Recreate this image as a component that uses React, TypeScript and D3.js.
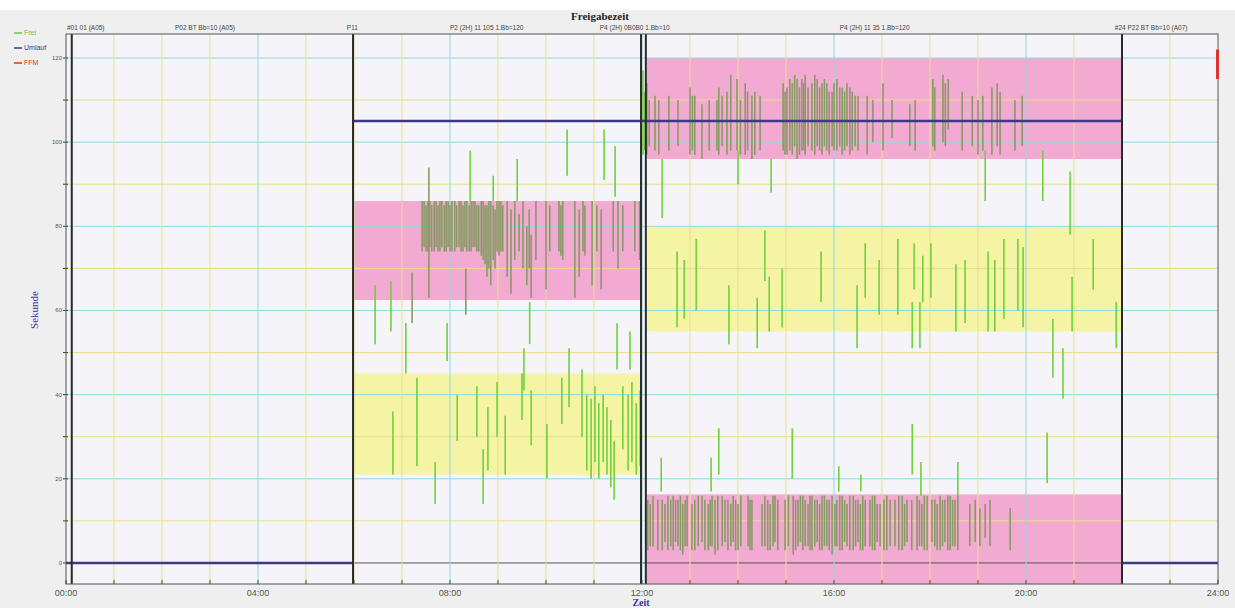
import React from "react";
import * as d3 from "d3";

// ---------- data ----------
const xTickHours = [0, 4, 8, 12, 16, 20, 24];
const xTickLabels = ["00:00", "04:00", "08:00", "12:00", "16:00", "20:00", "24:00"];
const yTickValues = [0, 20, 40, 60, 80, 100, 120];
const yTickLabels = ["0", "20", "40", "60", "80", "100", "120"];

const phaseLines = [0.12, 5.98, 11.98, 12.08, 22.0];

const programLabels = [
  { h: 0.02, text: "#01 01 (A05)" },
  { h: 2.27, text: "P02 BT Bb=10 (A05)" },
  { h: 5.85, text: "P11" },
  { h: 8.0, text: "P2 (2H) 11 105 1.Bb=120" },
  { h: 11.12, text: "P4 (2H) 0B0B0 1.Bb=10" },
  { h: 16.12, text: "P4 (2H) 11 35 1.Bb=120" },
  { h: 21.85, text: "#24  P22 BT Bb=10 (A07)" },
];

// bands: [fromHour, toHour, lo, hi, kind]
const bands: [number, number, number, number, string][] = [
  [5.98, 11.98, 62.5, 86, "pink"],
  [5.98, 11.98, 21, 45, "yellow"],
  [12.1, 22.0, 96, 120, "pink"],
  [12.1, 22.0, 55, 80, "yellow"],
  [12.1, 22.0, -5, 16.3, "pink"],
];

// Umlauf (cycle) line pieces: [fromHour, toHour, value]
const umlauf: [number, number, number][] = [
  [0, 5.98, 0],
  [5.98, 22.0, 105],
  [22.0, 24, 0],
];

// Frei segments: [hour, lo, hi]
const freiMorningDense: [number, number, number][] = [
  [7.42, 74, 86], [7.46, 75, 86], [7.5, 74, 85], [7.54, 74, 86], [7.58, 75, 86],
  [7.62, 74, 85], [7.67, 74, 86], [7.71, 75, 86], [7.75, 74, 85], [7.79, 74, 86],
  [7.83, 75, 86], [7.88, 74, 85], [7.92, 74, 86], [7.96, 75, 86], [8.0, 74, 85],
  [8.04, 74, 86], [8.1, 74, 86], [8.14, 75, 85], [8.19, 75, 86], [8.23, 74, 86],
  [8.27, 74, 85], [8.31, 75, 86], [8.35, 74, 86], [8.4, 74, 85], [8.44, 74, 86],
  [8.48, 75, 86], [8.52, 75, 86], [8.56, 74, 85], [8.6, 74, 85], [8.65, 73, 86],
  [8.69, 72, 86], [8.73, 71, 85], [8.77, 68, 85], [8.81, 70, 86], [8.85, 66, 86],
  [8.9, 72, 85], [8.94, 70, 84], [8.98, 74, 86], [9.02, 73, 86], [9.06, 74, 86],
  [9.1, 74, 85], [9.19, 68, 86], [9.27, 64, 84], [9.35, 72, 86], [9.44, 74, 83],
  [9.52, 70, 86], [9.6, 66, 80], [9.65, 70, 84], [9.69, 63, 78], [9.79, 72, 86],
  [10.0, 65, 86], [10.08, 74, 85], [10.27, 74, 86], [10.31, 73, 85], [10.35, 72, 86],
  [10.6, 63, 86], [10.69, 68, 84], [10.77, 74, 86], [10.81, 73, 85], [10.96, 66, 86],
  [11.06, 74, 85], [11.15, 65, 84], [11.4, 74, 86], [11.5, 70, 86], [11.6, 74, 85],
  [11.85, 74, 86], [11.95, 72, 86],
];

const freiMorningScatter: [number, number, number][] = [
  [6.44, 52, 66], [6.77, 55, 67], [7.08, 45, 57], [7.21, 57, 69], [7.56, 63, 94],
  [7.94, 48, 57], [8.33, 59, 70], [8.42, 86, 98], [8.9, 86, 92], [9.4, 86, 96],
  [9.54, 41, 51], [9.66, 52, 62], [10.44, 92, 103], [10.48, 37, 51], [11.21, 91, 103],
  [11.44, 87, 99], [11.48, 46, 57], [11.75, 46, 55],
];

const freiMorningLow: [number, number, number][] = [
  [6.81, 21, 36], [7.31, 23, 44], [7.69, 14, 24], [8.15, 29, 40], [8.56, 30, 42],
  [8.69, 14, 27], [8.79, 22, 37], [8.98, 30, 43], [9.15, 21, 35], [9.5, 34, 45],
  [9.69, 28, 41], [10.02, 20, 33], [10.33, 33, 44], [10.75, 30, 46], [10.85, 22, 40],
  [10.94, 20, 39], [11.02, 24, 42], [11.1, 20, 38], [11.19, 24, 40], [11.27, 21, 37],
  [11.35, 18, 34], [11.42, 15, 29], [11.6, 27, 42], [11.71, 22, 40], [11.79, 24, 43],
  [11.88, 21, 38], [11.96, 23, 41],
];

const freiAfternoonTop: [number, number, number][] = [
  [12.02, 97, 117], [12.06, 98, 112], [12.1, 97, 114], [12.15, 99, 110], [12.27, 98, 111],
  [12.35, 97, 110], [12.56, 98, 111], [12.75, 99, 110], [13.0, 97, 113], [13.05, 98, 111],
  [13.1, 97, 111], [13.25, 96, 109], [13.4, 98, 110], [13.56, 98, 110], [13.6, 97, 113],
  [13.67, 99, 111], [13.77, 97, 112], [13.85, 98, 116], [13.98, 98, 115], [14.05, 97, 110],
  [14.15, 97, 114], [14.2, 98, 112], [14.29, 96, 111], [14.35, 97, 112], [14.46, 98, 111],
  [14.94, 98, 114], [14.98, 97, 112], [15.02, 97, 113], [15.08, 98, 115], [15.13, 97, 114],
  [15.18, 99, 116], [15.23, 96, 115], [15.28, 97, 113], [15.33, 98, 115], [15.37, 98, 114],
  [15.4, 97, 116], [15.46, 99, 113], [15.54, 98, 114], [15.6, 97, 116], [15.65, 99, 115],
  [15.7, 98, 113], [15.75, 97, 114], [15.8, 99, 115], [15.85, 98, 114], [15.9, 97, 112],
  [15.96, 99, 112], [16.0, 98, 114], [16.06, 98, 115], [16.12, 99, 113], [16.17, 97, 113],
  [16.22, 98, 112], [16.27, 99, 114], [16.33, 97, 113], [16.38, 98, 112], [16.44, 99, 111],
  [16.5, 98, 111], [16.69, 97, 111], [16.81, 100, 110], [17.02, 98, 114], [17.21, 101, 110],
  [17.58, 99, 109], [17.69, 98, 110], [18.06, 99, 115], [18.1, 98, 113], [18.27, 100, 116],
  [18.32, 99, 114], [18.38, 103, 115], [18.67, 98, 112], [18.88, 99, 111], [19.0, 97, 110],
  [19.1, 98, 111], [19.29, 97, 113], [19.4, 99, 114], [19.46, 97, 112], [19.77, 98, 110],
  [19.92, 99, 111],
];

const freiAfternoonBottom: [number, number, number][] = [
  [12.12, 3, 15], [12.17, 4, 14], [12.23, 4, 16], [12.33, 3, 15], [12.42, 3, 15],
  [12.48, 5, 14], [12.54, 3, 16], [12.6, 4, 15], [12.65, 3, 16], [12.7, 5, 15],
  [12.75, 4, 15], [12.8, 3, 16], [12.85, 2, 14], [12.9, 4, 15], [12.94, 4, 16],
  [13.04, 3, 14], [13.1, 3, 15], [13.17, 4, 16], [13.25, 5, 16], [13.31, 3, 15],
  [13.38, 3, 14], [13.42, 4, 15], [13.46, 4, 16], [13.52, 2, 15], [13.58, 3, 16],
  [13.67, 4, 16], [13.73, 5, 15], [13.79, 3, 15], [13.85, 4, 14], [13.9, 5, 16],
  [13.95, 3, 15], [14.0, 3, 14], [14.06, 4, 16], [14.21, 4, 16], [14.25, 3, 15],
  [14.29, 3, 15], [14.5, 4, 14], [14.56, 4, 16], [14.62, 3, 15], [14.67, 3, 14],
  [14.73, 4, 16], [14.77, 5, 16], [14.83, 3, 15], [14.98, 3, 15], [15.05, 4, 16],
  [15.15, 2, 16], [15.2, 3, 15], [15.25, 4, 15], [15.3, 5, 16], [15.35, 3, 16],
  [15.4, 4, 15], [15.46, 4, 14], [15.5, 3, 16], [15.54, 3, 16], [15.6, 4, 15],
  [15.65, 5, 15], [15.7, 3, 14], [15.75, 3, 16], [15.8, 4, 16], [15.85, 4, 15],
  [15.9, 3, 15], [15.96, 2, 16], [16.02, 4, 14], [16.06, 4, 15], [16.12, 3, 16],
  [16.17, 3, 16], [16.22, 5, 15], [16.27, 4, 14], [16.33, 3, 16], [16.4, 3, 16],
  [16.45, 4, 15], [16.5, 5, 15], [16.55, 3, 14], [16.6, 3, 16], [16.65, 4, 15],
  [16.75, 4, 15], [16.8, 3, 16], [16.85, 3, 16], [16.9, 5, 14], [16.96, 4, 14],
  [17.04, 3, 15], [17.1, 3, 16], [17.17, 4, 15], [17.27, 4, 15], [17.35, 3, 16],
  [17.42, 3, 16], [17.47, 4, 14], [17.52, 5, 15], [17.62, 3, 15], [17.73, 3, 16],
  [17.78, 4, 15], [17.83, 4, 14], [17.88, 3, 16], [17.94, 3, 16], [18.04, 5, 15],
  [18.1, 4, 15], [18.15, 3, 14], [18.21, 3, 16], [18.26, 4, 15], [18.31, 5, 15],
  [18.37, 3, 16], [18.42, 3, 16], [18.47, 4, 15], [18.52, 4, 15], [18.58, 3, 16],
  [18.83, 4, 14], [18.94, 5, 15], [19.04, 4, 13], [19.15, 6, 14], [19.25, 4, 15],
  [19.67, 3, 13],
];

const freiAfternoonScatter: [number, number, number][] = [
  [12.42, 82, 96], [12.73, 56, 74], [12.88, 58, 72], [13.13, 60, 77], [13.81, 52, 66],
  [14.0, 90, 98], [14.4, 51, 63], [14.56, 67, 79], [14.65, 55, 68], [14.69, 88, 96],
  [14.92, 56, 70], [15.73, 62, 74], [16.48, 51, 66], [16.65, 63, 76], [16.94, 59, 72],
  [12.4, 17, 25], [13.44, 17, 25], [13.6, 21, 32], [15.13, 20, 32], [16.1, 17, 23],
  [16.56, 17, 21], [17.33, 59, 77], [17.63, 51, 62], [17.67, 65, 76], [17.79, 51, 62],
  [17.85, 62, 73], [18.02, 63, 76], [18.54, 55, 71], [18.73, 57, 72], [19.15, 86, 98],
  [19.21, 55, 74], [19.35, 55, 72], [19.54, 58, 77], [19.83, 60, 77], [19.94, 56, 75],
  [20.35, 86, 98], [20.56, 44, 58], [20.77, 39, 51], [20.92, 78, 93], [20.96, 55, 68],
  [21.4, 65, 77], [21.88, 51, 62], [17.63, 21, 33], [17.81, 16, 24], [18.58, 16, 24],
  [20.44, 19, 31],
];

const legendItems = [
  { label: "Frei", color: "#66cc44" },
  { label: "Umlauf", color: "#3a3a99" },
  { label: "FFM", color: "#dd3322" },
];

// ---------- chart ----------
const W = 1235;
const H = 608;
const left = 66;
const right = 1218;
const top = 34;
const bottom = 584;

export default function App() {
  const x = d3.scaleLinear().domain([0, 24]).range([left, right]);
  const y = d3.scaleLinear().domain([-5, 125.7]).range([bottom, top]);

  const gridHours = d3.range(1, 24);
  const gridValues = d3.range(10, 125, 10);
  const allFrei = [
    ...freiMorningDense,
    ...freiMorningScatter,
    ...freiMorningLow,
    ...freiAfternoonTop,
    ...freiAfternoonBottom,
    ...freiAfternoonScatter,
  ];
  const inPink = (h: number, v: number) =>
    bands.some((b) => b[4] === "pink" && h >= b[0] && h <= b[1] && v >= b[2] && v <= b[3]);

  const bandColor: Record<string, string> = { pink: "#f2aad3", yellow: "#f5f3a4" };

  return (
    <svg
      width={W}
      height={H}
      style={{ position: "absolute", left: 0, top: 0, background: "#efefef" }}
      fontFamily="'Liberation Sans', Arial, sans-serif"
    >
      <rect x={0} y={0} width={W} height={10} fill="#ffffff" />
      <rect x={left} y={top} width={right - left} height={bottom - top} fill="#f4f4f9" />

      {/* bands */}
      {bands.map((b, i) => (
        <rect
          key={"b" + i}
          x={x(b[0])}
          y={y(Math.min(b[3], 125.7))}
          width={x(b[1]) - x(b[0])}
          height={y(Math.max(b[2], -5)) - y(Math.min(b[3], 125.7))}
          fill={bandColor[b[4]]}
        />
      ))}

      {/* horizontal grid */}
      {gridValues.map((v) => (
        <line
          key={"hg" + v}
          x1={left}
          x2={right}
          y1={y(v)}
          y2={y(v)}
          stroke={v % 20 === 0 ? "#8fdbe3" : "#e9df8a"}
          strokeWidth={1}
        />
      ))}
      <line x1={left} x2={right} y1={y(0)} y2={y(0)} stroke="#555" strokeWidth={1} />

      {/* vertical grid */}
      {gridHours.map((h) => (
        <line
          key={"vg" + h}
          x1={x(h)}
          x2={x(h)}
          y1={top}
          y2={bottom}
          stroke={h % 4 === 0 ? "#8fdbe3" : "#e9df8a"}
          strokeWidth={1}
        />
      ))}

      {/* Frei segments */}
      {allFrei.map((s, i) => {
        const pink = inPink(s[0], (s[1] + s[2]) / 2);
        return (
          <line
            key={"f" + i}
            x1={x(s[0])}
            x2={x(s[0])}
            y1={y(s[1])}
            y2={y(s[2])}
            stroke={pink ? "#8a9a66" : "#72d03e"}
            strokeWidth={1.6}
          />
        );
      })}

      {/* Umlauf */}
      {umlauf.map((u, i) => (
        <line
          key={"u" + i}
          x1={x(u[0])}
          x2={x(u[1])}
          y1={y(u[2])}
          y2={y(u[2])}
          stroke="#3a3a88"
          strokeWidth={2.5}
        />
      ))}

      {/* phase lines */}
      {phaseLines.map((h, i) => (
        <line key={"p" + i} x1={x(h)} x2={x(h)} y1={top} y2={bottom} stroke="#2a2a2a" strokeWidth={2} />
      ))}

      {/* frame */}
      <rect x={left} y={top} width={right - left} height={bottom - top} fill="none" stroke="#555" strokeWidth={1} />

      {/* FFM marker */}
      <rect x={x(24) - 2} y={y(122)} width={3} height={y(115) - y(122)} fill="#dd3333" />

      {/* bottom ticks */}
      {d3.range(0, 25).map((h) => (
        <line key={"xt" + h} x1={x(h)} x2={x(h)} y1={bottom - 4} y2={bottom} stroke="#444" />
      ))}
      {xTickHours.map((h, i) => (
        <text key={"xl" + h} x={x(h)} y={596} textAnchor="middle" fontSize={9} fill="#555">
          {xTickLabels[i]}
        </text>
      ))}

      {/* left ticks */}
      {gridValues.concat([0]).map((v) => (
        <line key={"yt" + v} x1={left - 3} x2={left + 2} y1={y(v)} y2={y(v)} stroke="#444" />
      ))}
      {yTickValues.map((v, i) => (
        <text key={"yl" + v} x={left - 4} y={y(v) + 2} textAnchor="end" fontSize={6} fill="#555">
          {yTickLabels[i]}
        </text>
      ))}

      {/* program labels */}
      {programLabels.map((p, i) => (
        <text key={"pl" + i} x={x(p.h)} y={30} fontSize={6.5} fill="#444">
          {p.text}
        </text>
      ))}

      {/* title */}
      <text x={600} y={20} textAnchor="middle" fontSize={11} fontWeight="bold" fontFamily="'Liberation Serif', serif" fill="#222">
        Freigabezeit
      </text>

      {/* axis titles */}
      <text
        transform={`translate(38, 310) rotate(-90)`}
        textAnchor="middle"
        fontSize={11}
        fontFamily="'Liberation Serif', serif"
        fill="#3333aa"
      >
        Sekunde
      </text>
      <text x={641} y={606} textAnchor="middle" fontSize={10} fontWeight="bold" fontFamily="'Liberation Serif', serif" fill="#3333aa">
        Zeit
      </text>

      {/* legend */}
      {legendItems.map((l, i) => (
        <g key={"lg" + i} transform={`translate(14, ${35 + i * 15})`}>
          <line x1={0} x2={8} y1={-2} y2={-2} stroke={l.color} strokeWidth={1.5} />
          <text x={10} y={0} fontSize={7} fill={l.color}>
            {l.label}
          </text>
        </g>
      ))}
    </svg>
  );
}
